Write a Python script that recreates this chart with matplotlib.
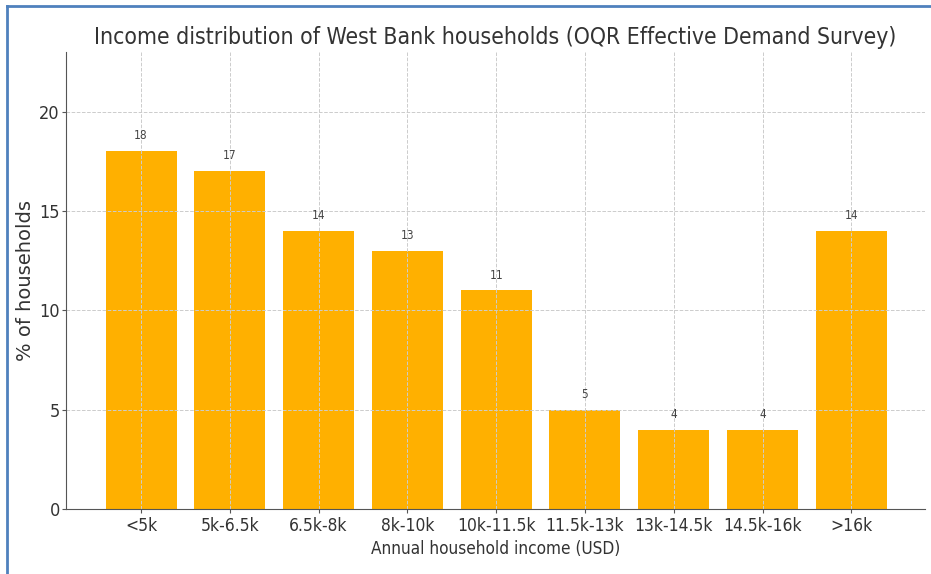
import matplotlib.pyplot as plt
from matplotlib.lines import Line2D

categories = ["<5k", "5k-6.5k", "6.5k-8k", "8k-10k", "10k-11.5k",
              "11.5k-13k", "13k-14.5k", "14.5k-16k", ">16k"]
shares = [18, 17, 14, 13, 11, 5, 4, 4, 14]

plt.rcParams["font.family"] = "DejaVu Sans"
plt.rcParams["font.stretch"] = "condensed"

fig = plt.figure(figsize=(9.31, 5.74), dpi=100)
ax = fig.add_axes([0.0709, 0.1132, 0.9227, 0.7962])

x = list(range(len(categories)))
ax.bar(x, shares, width=0.8, color="#FFB000")
for xi, v in zip(x, shares):
    ax.text(xi, v + 0.45, str(v), ha="center", va="bottom", fontsize=8.5, color="#444444")

ax.set_xticks(x)
ax.set_xticklabels(categories, fontsize=12.5, color="#333333")
ax.set_yticks([0, 5, 10, 15, 20])
ax.tick_params(axis="y", labelsize=13, labelcolor="#333333", pad=1.5, length=3)
ax.tick_params(axis="x", pad=3, length=3)
ax.tick_params(color="#555555")
ax.set_ylim(0, 23)
ax.set_xlim(-0.845, 8.83)

ax.grid(True, linestyle="--", color="#cccccc", linewidth=0.7)
for s in ("top", "right"):
    ax.spines[s].set_visible(False)
for s in ("left", "bottom"):
    ax.spines[s].set_color("#555555")

ax.set_title("Income distribution of West Bank households (OQR Effective Demand Survey)",
             fontsize=16.5, color="#333333", pad=6)
ax.set_xlabel("Annual household income (USD)", fontsize=12.3, color="#333333", labelpad=3)
ax.set_ylabel("% of households", fontsize=14, color="#333333", fontstretch="normal")
ax.yaxis.set_label_coords(-0.036, 0.5)

# blue frame on the left and top edges of the screenshot
fig.add_artist(Line2D([0.0075, 0.0075], [0, 0.99], transform=fig.transFigure, color="#4f81bd", lw=2))
fig.add_artist(Line2D([0.0075, 1], [0.99, 0.99], transform=fig.transFigure, color="#4f81bd", lw=2))

fig.savefig("out.png", dpi=100)
